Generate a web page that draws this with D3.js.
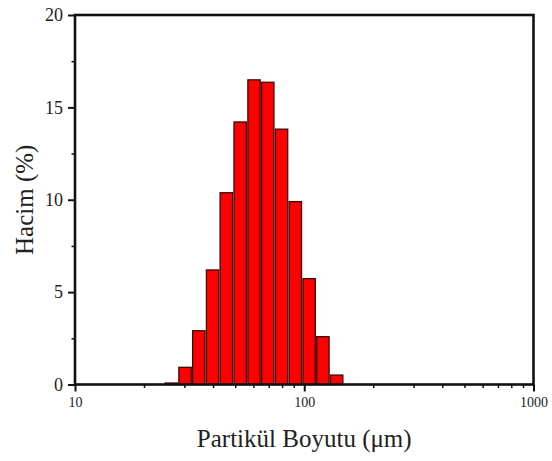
<!DOCTYPE html>
<html>
<head>
<meta charset="utf-8">
<script src="https://cdn.jsdelivr.net/npm/d3@7/dist/d3.min.js"></script>
<style>
  html, body { margin: 0; padding: 0; background: #fff; }
  svg { display: block; }
  text { font-family: "Liberation Serif", "Times New Roman", serif; fill: #222; }
</style>
</head>
<body>
<svg id="chart" width="552" height="461"></svg>
<script>
// Particle size bin centres (µm) and volume (%)
const sizes  = [26.3, 30.2, 34.7, 39.8, 45.7, 52.6, 60.4, 69.3, 79.6, 91.4, 105, 120.6, 138.5];
const volume = [0.08, 0.93, 2.91, 6.2, 10.38, 14.21, 16.49, 16.36, 13.82, 9.9, 5.73, 2.59, 0.51];
const yMajorTicks = [0, 5, 10, 15, 20];
const yMinorTicks = [2.5, 7.5, 12.5, 17.5];
const xMajorTicks = [10, 100, 1000];
const xMinorTicks = [20, 30, 40, 50, 60, 70, 80, 90, 200, 300, 400, 500, 600, 700, 800, 900];
const xTitle = "Partikül Boyutu (μm)";
const yTitle = "Hacim (%)";

const svg = d3.select("#chart");
const L = 75, R = 533.5, T = 15, B = 384.5;

const x = d3.scaleLog().domain([10, 1000]).range([L, R]);
const y = d3.scaleLinear().domain([0, 20]).range([B, T]);

// bin edges as geometric means between neighbouring centres
const edges = sizes.map((c, i) => {
  const prev = i > 0 ? sizes[i - 1] : c * c / sizes[i + 1];
  const next = i < sizes.length - 1 ? sizes[i + 1] : c * c / sizes[i - 1];
  return [Math.sqrt(prev * c), Math.sqrt(c * next)];
});

// bars
svg.append("g").selectAll("rect")
  .data(volume)
  .join("rect")
  .attr("x", (d, i) => x(edges[i][0]) + 0.7)
  .attr("width", (d, i) => x(edges[i][1]) - x(edges[i][0]) - 1.4)
  .attr("y", d => y(d))
  .attr("height", d => y(0) - y(d))
  .attr("fill", "#ff0000")
  .attr("stroke", "#3a0a0a")
  .attr("stroke-width", 1.3);

// axes
const yAxis = d3.axisLeft(y).tickValues(yMajorTicks).tickSize(7).tickPadding(5).tickFormat(d3.format("d"));
const gy = svg.append("g").attr("transform", `translate(${L},0)`).call(yAxis);
gy.select(".domain").remove();
gy.selectAll(".tick line").attr("stroke", "#111").attr("stroke-width", 2);
gy.selectAll(".tick text").style("font-size", "18px").attr("fill", "#333");

const yMinor = d3.axisLeft(y).tickValues(yMinorTicks).tickSize(3.5).tickFormat("");
const gym = svg.append("g").attr("transform", `translate(${L},0)`).call(yMinor);
gym.select(".domain").remove();
gym.selectAll(".tick line").attr("stroke", "#111").attr("stroke-width", 1.5);

const xAxis = d3.axisBottom(x).tickValues(xMajorTicks).tickSize(7).tickPadding(6).tickFormat(d3.format("d"));
const gx = svg.append("g").attr("transform", `translate(0,${B})`).call(xAxis);
gx.select(".domain").remove();
gx.selectAll(".tick line").attr("stroke", "#111").attr("stroke-width", 2);
gx.selectAll(".tick text").style("font-size", "14px").attr("fill", "#333");

const xMinor = d3.axisBottom(x).tickValues(xMinorTicks).tickSize(3.5).tickFormat("");
const gxm = svg.append("g").attr("transform", `translate(0,${B})`).call(xMinor);
gxm.select(".domain").remove();
gxm.selectAll(".tick line").attr("stroke", "#111").attr("stroke-width", 1.5);

// frame
svg.append("rect")
  .attr("x", L).attr("y", T)
  .attr("width", R - L).attr("height", B - T)
  .attr("fill", "none")
  .attr("stroke", "#111")
  .attr("stroke-width", 2.6);

// titles
svg.append("text")
  .attr("x", (L + R) / 2).attr("y", 447)
  .attr("text-anchor", "middle")
  .style("font-size", "25px")
  .text(xTitle);

svg.append("text")
  .attr("transform", `translate(33,${(T + B) / 2}) rotate(-90)`)
  .attr("text-anchor", "middle")
  .style("font-size", "25px")
  .text(yTitle);
</script>
</body>
</html>
